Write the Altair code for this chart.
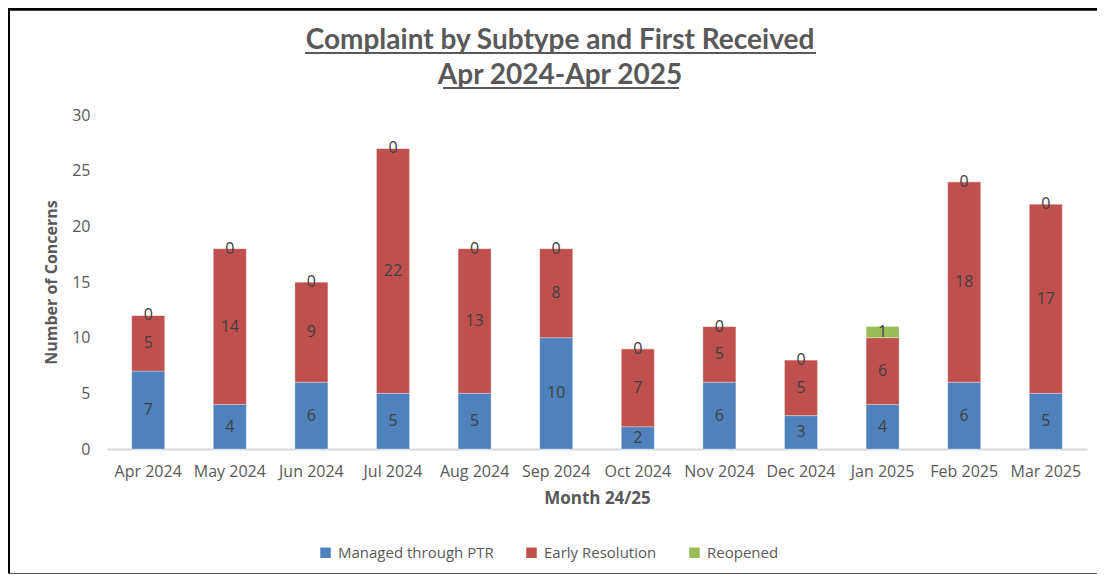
import altair as alt
import pandas as pd

months = ["Apr 2024", "May 2024", "Jun 2024", "Jul 2024", "Aug 2024", "Sep 2024",
          "Oct 2024", "Nov 2024", "Dec 2024", "Jan 2025", "Feb 2025", "Mar 2025"]
ptr = [7, 4, 6, 5, 5, 10, 2, 6, 3, 4, 6, 5]
early = [5, 14, 9, 22, 13, 8, 7, 5, 5, 6, 18, 17]
reopened = [0, 0, 0, 0, 0, 0, 0, 0, 0, 1, 0, 0]
series = ["Managed through PTR", "Early Resolution", "Reopened"]
colors = ["#4F81BD", "#C0504D", "#9BBB59"]
y_ticks = [0, 5, 10, 15, 20, 25, 30]
title_lines = ["Complaint by Subtype and First Received", "Apr 2024-Apr 2025"]

rows = []
for i, m in enumerate(months):
    for k, (s, vals) in enumerate(zip(series, [ptr, early, reopened])):
        rows.append({"month": m, "series": s, "order": k, "value": vals[i]})
df = pd.DataFrame(rows)

W, H = 980, 334
FONT = "Open Sans"
GREY = "#595959"

base = alt.Chart(df).transform_stack(
    stack="value", groupby=["month"], as_=["y0", "y1"],
    sort=[alt.SortField("order", order="ascending")]
).transform_calculate(mid="(datum.y0 + datum.y1) / 2")

xscale = alt.Scale(paddingInner=0.596, paddingOuter=0.303)
yscale = alt.Scale(domain=[0, 30], nice=False)

bars = base.mark_bar(stroke="white", strokeWidth=0.5, strokeOpacity=0.6).encode(
    x=alt.X("month:N", sort=months, scale=xscale,
            axis=alt.Axis(title="Month 24/25", labelAngle=0, ticks=False,
                          domainColor="#d9d9d9", domainWidth=2,
                          labelFont=FONT, labelFontSize=16, labelColor=GREY,
                          labelPadding=14, titleFont=FONT, titleFontSize=17,
                          titleFontWeight="bold", titleColor=GREY, titlePadding=11)),
    y=alt.Y("y0:Q", scale=yscale,
            axis=alt.Axis(title="Number of Concerns", values=y_ticks, grid=False,
                          domain=False, ticks=False, labelFont=FONT, labelFontSize=16,
                          labelColor=GREY, labelPadding=17, titleFont=FONT,
                          titleFontSize=16, titleFontWeight="bold", titleColor=GREY,
                          titlePadding=12)),
    y2="y1:Q",
    color=alt.Color("series:N", scale=alt.Scale(domain=series, range=colors),
                    legend=alt.Legend(title=None, orient="none", direction="horizontal",
                                      legendX=211, legendY=430, symbolType="square",
                                      symbolSize=110, symbolStrokeWidth=0,
                                      labelFont=FONT, labelFontSize=15, labelColor=GREY,
                                      columnPadding=30, labelOffset=5)),
)

labels = base.mark_text(font=FONT, fontSize=16, color="#404040").encode(
    x=alt.X("month:N", sort=months, scale=xscale),
    y=alt.Y("mid:Q", scale=yscale),
    text=alt.Text("value:Q"),
)

title_df = pd.DataFrame({"t": title_lines})
title1 = alt.Chart(title_df).transform_filter(alt.datum.t == title_lines[0]).mark_text(
    font="Lato", fontSize=28, fontWeight="bold", color=GREY, baseline="alphabetic"
).encode(text="t:N", x=alt.value(453), y=alt.value(-66))
title2 = alt.Chart(title_df).transform_filter(alt.datum.t == title_lines[1]).mark_text(
    font="Lato", fontSize=28, fontWeight="bold", color=GREY, baseline="alphabetic"
).encode(text="t:N", x=alt.value(453), y=alt.value(-31))

# title underlines and frame
underline1 = alt.Chart(title_df).mark_rule(color=GREY, strokeWidth=2).encode(
    x=alt.value(198), x2=alt.value(709), y=alt.value(-62))
underline2 = alt.Chart(title_df).mark_rule(color=GREY, strokeWidth=2).encode(
    x=alt.value(336), x2=alt.value(572), y=alt.value(-27))
frame_top = alt.Chart(title_df).mark_rule(color="black", strokeWidth=3).encode(
    x=alt.value(-99), x2=alt.value(990), y=alt.value(-106))
frame_left = alt.Chart(title_df).mark_rule(color="black", strokeWidth=2).encode(
    x=alt.value(-98), y=alt.value(-106), y2=alt.value(459))
frame_bottom = alt.Chart(title_df).mark_rule(color=GREY, strokeWidth=2).encode(
    x=alt.value(-99), x2=alt.value(990), y=alt.value(459))

chart = alt.layer(bars, labels, title1, title2, underline1, underline2,
                  frame_top, frame_left, frame_bottom).properties(
    width=W, height=H,
    autosize=alt.AutoSizeParams(type="none"),
    padding={"left": 99, "top": 107, "right": 10, "bottom": 125},
).configure(background="white").configure_view(stroke=None)

chart.save("out.html", embed_options={"renderer": "svg", "actions": False})
